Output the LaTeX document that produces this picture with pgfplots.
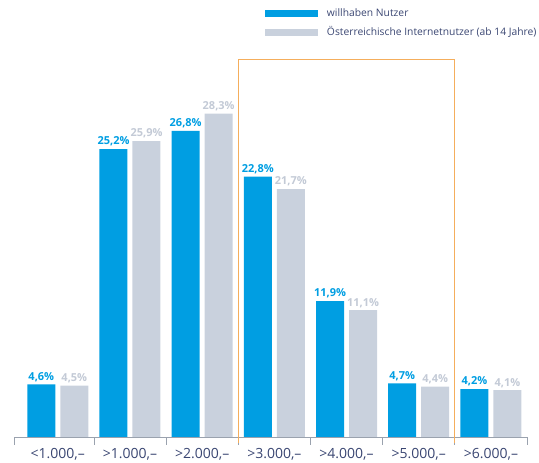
\documentclass[border=0pt]{standalone}
\usepackage{pgfplots}
\pgfplotsset{compat=1.18}
\usepackage{fontspec}
\setmainfont{Open Sans}
\definecolor{wblue}{HTML}{009EE2}
\definecolor{wgray}{HTML}{C9D1DD}
\definecolor{wgraytxt}{HTML}{C3CAD6}
\definecolor{navy}{HTML}{3A4672}
\definecolor{worange}{HTML}{F5AE5C}
\definecolor{axgray}{HTML}{9AA2AE}
\begin{document}
\begin{tikzpicture}
\path[use as bounding box] (0,0) rectangle (539pt,463pt);
\begin{axis}[
  at={(14pt,26pt)}, anchor=south west,
  scale only axis, width=513pt, height=377pt,
  xmin=-0.607, xmax=6.5, ymin=0, ymax=33,
  axis x line=bottom, axis y line=none,
  axis line style={axgray, line width=0.8pt, -},
  xtick={0,...,6},
  xticklabels={{<1.000,--},{>1.000,--},{>2.000,--},{>3.000,--},{>4.000,--},{>5.000,--},{>6.000,--}},
  major tick length=0pt,
  x tick label style={font=\fontsize{14}{16}\selectfont, text=navy, yshift=-8pt},
  extra x ticks={-0.607,0.5,1.5,2.5,3.5,4.5,5.5,6.5},
  extra x tick labels={},
  extra x tick style={tick align=outside, major tick length=8pt, tick style={axgray, line width=0.8pt}},
  ybar, bar width=28pt,
  /pgf/number format/assume math mode=true,
  nodes near coords={\pgfmathprintnumber[use comma, fixed, precision=1, fixed zerofill]{\pgfplotspointmeta}\%},
  every node near coord/.append style={font=\fontsize{11}{13}\selectfont\bfseries, inner sep=2.5pt},
  legend style={at={(0.483,1.148)}, anchor=north west, draw=none, fill=none,
    font=\fontsize{10.3}{12}\selectfont, text=navy, row sep=5pt,
    legend cell align=left},
  legend image code/.code={\fill[#1] (0pt,-3.5pt) rectangle (53pt,3.5pt); \path (60pt,0pt);},
  clip=false,
]
\addplot[fill=wblue, draw=none, bar shift=-16.5pt, every node near coord/.append style={text=wblue}]
  coordinates {(0,4.6) (1,25.2) (2,26.8) (3,22.8) (4,11.9) (5,4.7) (6,4.2)};
\addlegendentry{willhaben Nutzer}
\addplot[fill=wgray, draw=none, bar shift=16.5pt, every node near coord/.append style={text=wgraytxt}]
  coordinates {(0,4.5) (1,25.9) (2,28.3) (3,21.7) (4,11.1) (5,4.4) (6,4.1)};
\addlegendentry{Österreichische Internetnutzer (ab 14 Jahre)}
\draw[worange, line width=1pt] (axis cs:2.5,-0.5) -- (axis cs:2.5,33) -- (axis cs:5.5,33) -- (axis cs:5.5,-0.5);
\end{axis}
\end{tikzpicture}
\end{document}
